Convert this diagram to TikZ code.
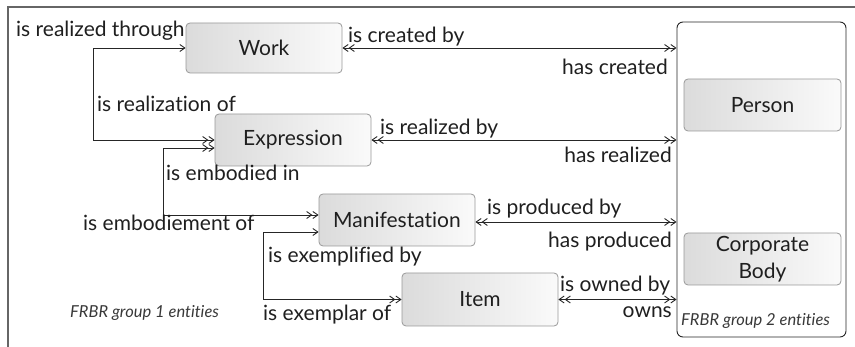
\documentclass[tikz,border=0pt]{standalone}
\usepackage{fontspec}
\setmainfont[Ligatures=NoCommon]{Lato}
\usetikzlibrary{arrows.meta}

\newcommand\lblfont{\fontsize{21}{27}\selectfont}
\newcommand\grpfont{\fontsize{16.5}{20}\selectfont\itshape}

\tikzset{
  sb/.tip={Straight Barb[length=5pt,width=7pt,line width=0.9pt]},
  sbb/.tip={Straight Barb[length=5pt,width=7pt,line width=0.9pt]Straight Barb[length=5pt,width=7pt,line width=0.9pt]},
  entity/.style={draw=black!40, line width=0.8pt, rounded corners=4pt,
    left color=black!14, right color=black!2,
    minimum width=156pt, minimum height=52pt, inner sep=0pt,
    font=\lblfont, text=black!88, align=center},
  rel/.style={draw=black!85, line width=0.9pt},
  lab/.style={inner sep=0pt, font=\lblfont, text=black!88},
  grp/.style={inner sep=0pt, font=\grpfont, text=black!78},
  frame/.style={draw=black!60, line width=1.5pt},
  container/.style={draw=black!85, line width=0.9pt, rounded corners=6pt, inner sep=0pt}
}

\begin{document}
\begin{tikzpicture}[x=1pt, y=-1pt]
  \useasboundingbox (0,0) rectangle (855,347);

  % outer frame (open on the right and at the bottom)
  \draw[frame] (8,347) -- (8,7) -- (855,7);

  % group 2 container
  \node[container, minimum width=169pt, minimum height=315pt] (grp2) at (761.5,179.5) {};

  % group 1 entities
  \node[entity, minimum height=50pt] (work) at (264,48) {Work};
  \node[entity] (expr) at (293,140) {Expression};
  \node[entity] (mani) at (397,220) {Manifestation};
  \node[entity, minimum height=53pt] (item) at (480,299.5) {Item};

  % group 2 entities
  \node[entity, minimum width=157pt] (person) at (762.5,105) {Person};
  \node[entity, minimum width=157pt] (corp) at (762.5,259) {Corporate\\Body};

  % bends of the group 1 chain
  \coordinate (c1) at (93,0);
  \coordinate (c2) at (163,0);
  \coordinate (c3) at (263,0);

  % Work -> Expression
  \draw[rel, {sb}-{sbb}] (work.west) -- (work.west -| c1) -- (expr.west -| c1) -- (expr.west);
  % Expression -> Manifestation
  \draw[rel, {sbb}-{sbb}] ([yshift=-8pt]expr.west) -- ([yshift=-8pt]expr.west -| c2)
    -- ([yshift=5pt]mani.west -| c2) -- ([yshift=5pt]mani.west);
  % Manifestation -> Item
  \draw[rel, {sb}-{sbb}] ([yshift=-12pt]mani.west) -- ([yshift=-12pt]mani.west -| c3)
    -- (item.west -| c3) -- (item.west);

  % links to group 2
  \draw[rel, {sbb}-{sbb}] (work.east) -- (work.east -| grp2.west);
  \draw[rel, {sbb}-{sbb}] (expr.east) -- (expr.east -| grp2.west);
  \draw[rel, {sbb}-{sbb}] ([yshift=-2pt]mani.east) -- ([yshift=-2pt]mani.east -| grp2.west);
  \draw[rel, {sbb}-{sbb}] (item.east) -- (item.east -| grp2.west);

  % relationship labels, group 1 chain
  \node[lab, anchor=base west] (lrt) at (16,37) {is realized through};
  \node[lab, anchor=base west] (lro) at (97,112) {is realization of};
  \node[lab, anchor=base west] (lei) at (166,181) {is embodied in};
  \node[lab, anchor=base west] (leo) at (83,231) {is embodiement of};
  \node[lab, anchor=base west] (lex) at (268,263) {is exemplified by};
  \node[lab, anchor=base west] (lxo) at (263,321) {is exemplar of};

  % relationship labels, group 2 links
  \node[lab, anchor=base west] (lcb) at (348,43) {is created by};
  \node[lab, anchor=base east] (lhc) at (668,75) {has created};
  \node[lab, anchor=base west] (lrb) at (380,135) {is realized by};
  \node[lab, anchor=base east] (lhr) at (672,163) {has realized};
  \node[lab, anchor=base west] (lpb) at (487,215) {is produced by};
  \node[lab, anchor=base east] (lhp) at (672,248) {has produced};
  \node[lab, anchor=base west] (lob) at (560,292) {is owned by};
  \node[lab, anchor=base east] (low) at (672,318) {owns};

  % group captions
  \node[grp, anchor=base west] (g1) at (70,318) {FRBR group 1 entities};
  \node[grp, anchor=base west] (g2) at (681,326) {FRBR group 2 entities};
\end{tikzpicture}
\end{document}
